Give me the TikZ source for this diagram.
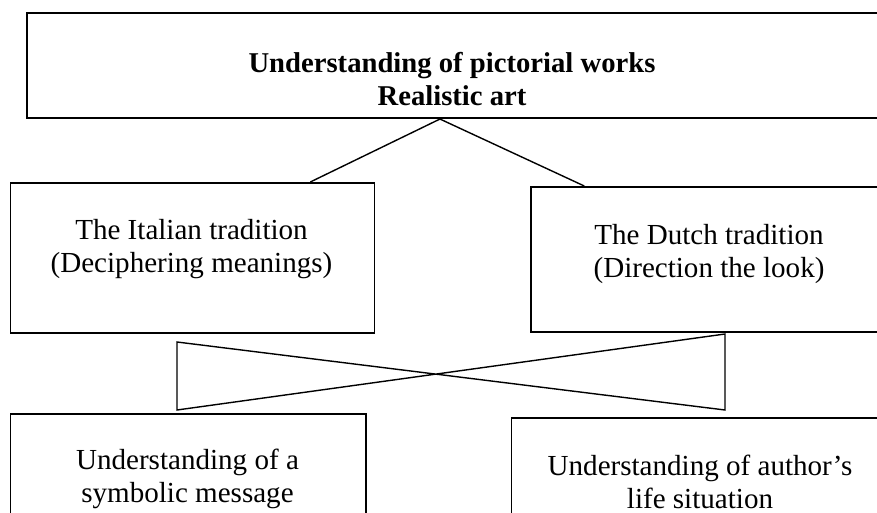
\documentclass[tikz,border=0pt]{standalone}
\usepackage{fontspec}
\setmainfont{Liberation Serif}
\usetikzlibrary{positioning, calc}

\begin{document}
\begin{tikzpicture}[
    x=0.75pt, y=-0.75pt,
    box/.style={rectangle, draw, line width=1.15pt, inner sep=0pt, anchor=north west},
    txt/.style={align=center, inner sep=0pt, font=\fontsize{21.8}{24.75}\selectfont},
    link/.style={line width=1.05pt}
]
\useasboundingbox (0,0) rectangle (877,513);
% boxes
\node[box, line width=1.5pt, minimum width=652.5pt, minimum height=78.4pt] (top) at (25.5,12.5) {};
\node[box, minimum width=273pt, minimum height=112.5pt] (it) at (9.5,182) {};
\node[box, minimum width=277.5pt, minimum height=108.75pt] (du) at (530,186) {};
\node[box, minimum width=266.6pt, minimum height=90pt] (sym) at (9.5,413) {};
\node[box, minimum width=285pt, minimum height=90pt] (life) at (510.5,417) {};
% texts
\node[txt, font=\fontsize{21.5}{24.75}\selectfont\bfseries] (toptxt) at (452,79) {Understanding of pictorial works\\Realistic art};
\node[txt] (ittxt) at (191.5,249) {The Italian tradition\\(Deciphering meanings)};
\node[txt] (dutxt) at (709,254) {The Dutch tradition\\(Direction the look)};
\node[txt] (symtxt) at (187.5,479) {Understanding of a\\symbolic message};
\node[txt] (lifetxt) at (700,481.5) {Understanding of author’s\\life situation};
% links
\coordinate (apex) at ($(top.south west)!0.4753!(top.south east)$);
\draw[link] ($(it.north west)!0.823!(it.north east)$) -- (apex) -- ($(du.north west)!0.146!(du.north east)$);
\coordinate (xtl) at (177,342);
\coordinate (xbl) at (177,410);
\coordinate (xtr) at (725,334);
\coordinate (xbr) at (725,410);
\draw[link] (xtl) -- (xbr) -- (xtr) -- (xbl) -- cycle;
\end{tikzpicture}
\end{document}
